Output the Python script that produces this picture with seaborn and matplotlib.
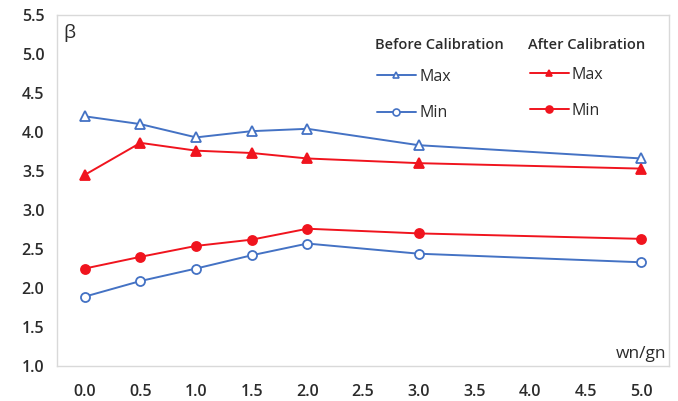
import matplotlib
matplotlib.use("Agg")
import matplotlib.pyplot as plt
import seaborn as sns
import pandas as pd
from matplotlib.lines import Line2D

x = [0.0, 0.5, 1.0, 1.5, 2.0, 3.0, 5.0]
before_max = [4.20, 4.10, 3.93, 4.01, 4.04, 3.83, 3.66]
before_min = [1.89, 2.09, 2.25, 2.42, 2.57, 2.44, 2.33]
after_max = [3.45, 3.86, 3.76, 3.73, 3.66, 3.60, 3.53]
after_min = [2.25, 2.40, 2.54, 2.62, 2.76, 2.70, 2.63]
xticks = [0.0, 0.5, 1.0, 1.5, 2.0, 2.5, 3.0, 3.5, 4.0, 4.5, 5.0]
yticks = [1.0, 1.5, 2.0, 2.5, 3.0, 3.5, 4.0, 4.5, 5.0, 5.5]

sns.set_style("white")
plt.rcParams['font.family'] = ['Open Sans', 'DejaVu Sans']

BLUE = "#4472C4"
RED = "#F0141E"
TXT = "#2b2b2b"

fig = plt.figure(figsize=(6.78, 4.01), dpi=100)
ax = fig.add_axes([0.084, 0.087, 0.903, 0.876])

df = pd.DataFrame({"x": x, "bmax": before_max, "bmin": before_min,
                   "amax": after_max, "amin": after_min})

series = [
    ("bmax", BLUE, "^", "white"),
    ("bmin", BLUE, "o", "white"),
    ("amax", RED, "^", RED),
    ("amin", RED, "o", RED),
]
for col, c, m, fc in series:
    sns.lineplot(data=df, x="x", y=col, ax=ax, color=c, marker=m,
                 markerfacecolor=fc, markeredgecolor=c, markeredgewidth=1.3,
                 markersize=6.5, linewidth=1.4)

ax.set_xlim(-0.25, 5.25)
ax.set_ylim(1.0, 5.5)
ax.set_xticks(xticks)
ax.set_xticklabels([f"{v:.1f}" for v in xticks])
ax.set_yticks(yticks)
ax.set_yticklabels([f"{v:.1f}" for v in yticks])
ax.tick_params(axis="both", length=0, labelsize=11.5, labelcolor=TXT)
for lab in ax.get_xticklabels() + ax.get_yticklabels():
    lab.set_fontweight("semibold")
ax.tick_params(axis="x", pad=13)
ax.tick_params(axis="y", pad=9)
ax.set_xlabel("")
ax.set_ylabel("")
for s in ax.spines.values():
    s.set_color("#d9d9d9")
    s.set_linewidth(1.0)

ax.text(0.01, 0.975, "β", transform=ax.transAxes, fontsize=14,
        color=TXT, va="top", ha="left")
ax.text(0.995, 0.012, "wn/gn", transform=ax.transAxes, fontsize=12.5,
        color=TXT, va="bottom", ha="right")

ax.text(0.5196, 0.9145, "Before Calibration", transform=ax.transAxes,
        fontsize=10.5, fontweight="semibold", color=TXT, va="center", ha="left")
ax.text(0.7696, 0.9145, "After Calibration", transform=ax.transAxes,
        fontsize=10.5, fontweight="semibold", color=TXT, va="center", ha="left")

def handle(c, m, fc):
    return Line2D([], [], color=c, marker=m, markerfacecolor=fc,
                  markeredgecolor=c, markeredgewidth=1.2, markersize=5,
                  linewidth=1.4)

common = dict(frameon=False, loc="center left", fontsize=11.5,
              labelspacing=1.28, handlelength=2.45, handletextpad=0.2,
              borderaxespad=0.0)
leg1 = ax.legend([handle(BLUE, "^", "white"), handle(BLUE, "o", "white")],
                 ["Max", "Min"], bbox_to_anchor=(0.512, 0.772), **common)
ax.add_artist(leg1)
leg2 = ax.legend([handle(RED, "^", RED), handle(RED, "o", RED)],
                 ["Max", "Min"], bbox_to_anchor=(0.7615, 0.778), **common)
for lg in (leg1, leg2):
    for t in lg.get_texts():
        t.set_color(TXT)

fig.savefig("out.png", dpi=100, facecolor="white")
